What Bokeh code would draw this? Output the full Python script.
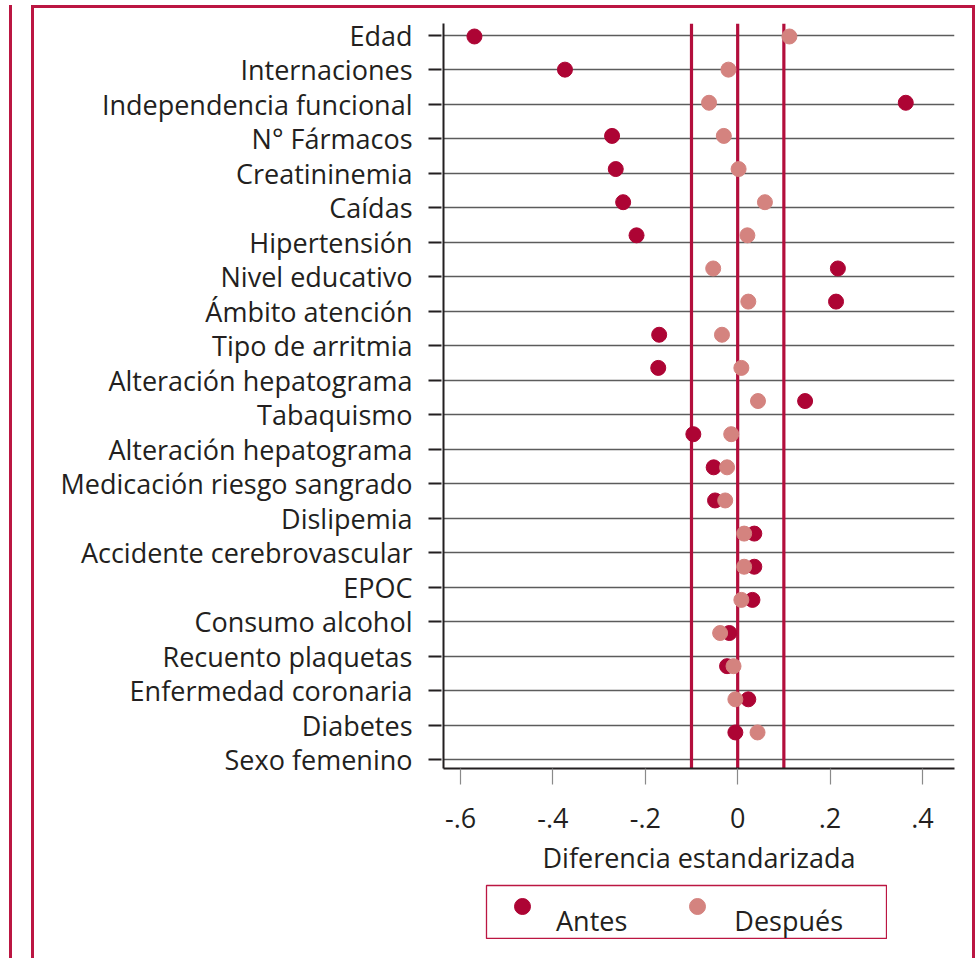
from bokeh.plotting import figure
from bokeh.models import (Range1d, FixedTicker, Span, Legend, LegendItem,
                          ColumnDataSource, Spacer)
from bokeh.layouts import column, row
from bokeh.embed import file_html
from bokeh.resources import INLINE

# ---------------- data ----------------
labels = ["Edad", "Internaciones", "Independencia funcional", "N° Fármacos",
          "Creatininemia", "Caídas", "Hipertensión", "Nivel educativo",
          "Ámbito atención", "Tipo de arritmia", "Alteración hepatograma",
          "Tabaquismo", "Alteración hepatograma", "Medicación riesgo sangrado",
          "Dislipemia", "Accidente cerebrovascular", "EPOC", "Consumo alcohol",
          "Recuento plaquetas", "Enfermedad coronaria", "Diabetes", "Sexo femenino"]
antes = [-0.570, -0.374, 0.364, -0.272, -0.264, -0.248, -0.219, 0.217, 0.213,
         -0.170, -0.172, 0.146, -0.096, -0.052, -0.049, 0.036, 0.036, 0.032,
         -0.018, -0.023, 0.023, -0.005]
despues = [0.112, -0.020, -0.062, -0.030, 0.002, 0.059, 0.021, -0.053, 0.023,
           -0.034, 0.008, 0.044, -0.014, -0.023, -0.027, 0.014, 0.014, 0.008,
           -0.038, -0.009, -0.005, 0.043]
thresholds = [-0.1, 0.0, 0.1]
x_ticks = [-0.6, -0.4, -0.2, 0.0, 0.2, 0.4]
x_tick_labels = ["-.6", "-.4", "-.2", "0", ".2", ".4"]
series_names = ["Antes", "Después"]
x_title = "Diferencia estandarizada"

# ---------------- style ----------------
DARK = "#ad0434"
LIGHT = "#d4837f"
RED = "#b30e3c"
FRAME_RED = "#bb1642"
TXT = "#231f20"
FONT = "Open Sans"
FS = "27px"

rows = list(range(len(labels)))
src = ColumnDataSource(dict(row=rows, antes=antes, despues=despues))

p = figure(width=938, height=876, output_backend="svg", toolbar_location=None,
           x_range=Range1d(-0.637, 0.4695), y_range=Range1d(21.26, -0.348),
           min_border_left=409, min_border_right=18, min_border_top=15,
           min_border_bottom=116)
p.outline_line_color = None
p.background_fill_color = "white"
p.border_fill_color = "white"

# points sit on their own slightly tighter vertical scale (as in the original)
p.extra_y_ranges = {"pts": Range1d(22.088, -0.392)}

# grid
p.xgrid.visible = False
p.ygrid.ticker = FixedTicker(ticks=rows)
p.ygrid.grid_line_color = "#5c5c5c"
p.ygrid.grid_line_width = 1.6

# threshold lines
for t in thresholds:
    p.add_layout(Span(location=t, dimension="height", line_color=RED,
                      line_width=3.2, level="underlay"))

r1 = p.scatter(x="antes", y="row", source=src, y_range_name="pts", size=15,
               fill_color=DARK, line_color=DARK)
r2 = p.scatter(x="despues", y="row", source=src, y_range_name="pts", size=15,
               fill_color=LIGHT, line_color=LIGHT)

# y axis
ya = p.yaxis[0]
ya.ticker = FixedTicker(ticks=rows)
ya.major_label_overrides = {i: lab for i, lab in enumerate(labels)}
ya.axis_line_color = TXT
ya.axis_line_width = 2
ya.major_tick_line_color = TXT
ya.major_tick_line_width = 2
ya.major_tick_in = -2
ya.major_tick_out = 15
ya.minor_tick_line_color = None
ya.major_label_standoff = 16
ya.major_label_text_font = FONT
ya.major_label_text_font_size = FS
ya.major_label_text_color = TXT

# x axis
xa = p.xaxis[0]
xa.ticker = FixedTicker(ticks=x_ticks)
xa.major_label_overrides = {v: l for v, l in zip(x_ticks, x_tick_labels)}
xa.axis_line_color = TXT
xa.axis_line_width = 2
xa.major_tick_line_color = "#8a8a8a"
xa.major_tick_line_width = 1.2
xa.major_tick_in = 0
xa.major_tick_out = 16
xa.minor_tick_line_color = None
xa.major_label_standoff = 23
xa.major_label_text_font = FONT
xa.major_label_text_font_size = FS
xa.major_label_text_color = TXT
xa.axis_label = x_title
xa.axis_label_standoff = 8
xa.axis_label_text_font = FONT
xa.axis_label_text_font_size = FS
xa.axis_label_text_font_style = "normal"
xa.axis_label_text_color = TXT

# ---------------- legend (own small panel, boxed) ----------------
# the legend panel's ranges lie beyond all data, so its renderers only
# supply legend glyphs
lg = figure(width=402, height=55, output_backend="svg", toolbar_location=None,
            x_range=Range1d(5, 6), y_range=Range1d(5, 6),
            min_border_left=1, min_border_right=1, min_border_top=1,
            min_border_bottom=1)
lg.axis.visible = False
lg.grid.visible = False
lg.outline_line_color = FRAME_RED
lg.outline_line_width = 1.3
lg.border_fill_color = "white"
l1 = lg.scatter(x="antes", y="row", source=src, size=15,
                fill_color=DARK, line_color=DARK)
l2 = lg.scatter(x="despues", y="row", source=src, size=15,
                fill_color=LIGHT, line_color=LIGHT)
h1 = lg.scatter(x="antes", y="row", source=src, size=15,
                fill_alpha=0, line_alpha=0)
h2 = lg.scatter(x="despues", y="row", source=src, size=15,
                fill_alpha=0, line_alpha=0)

common = dict(orientation="horizontal", glyph_width=40, glyph_height=40,
              label_height=40, padding=0, margin=0, border_line_color=None,
              background_fill_alpha=0, label_text_font=FONT,
              label_text_font_size=FS)
# markers only (blank labels)
leg_marks = Legend(items=[LegendItem(label=" ", renderers=[l1], index=0),
                          LegendItem(label=" ", renderers=[l2], index=0)],
                   location=(16, 12), label_standoff=0, spacing=115,
                   label_text_alpha=0, **common)
# labels, set a little lower than the markers as in the original
leg_text = Legend(items=[LegendItem(label=series_names[0], renderers=[h1], index=0),
                         LegendItem(label=series_names[1], renderers=[h2], index=0)],
                  location=(16, -2), label_standoff=14, spacing=53,
                  label_text_color=TXT, **common)
lg.add_layout(leg_marks, "center")
lg.add_layout(leg_text, "center")

# ---------------- page frame ----------------
inner = column(p, row(Spacer(width=451, height=55), lg), Spacer(width=10, height=40),
               styles={"border-top": f"3px solid {FRAME_RED}",
                       "border-left": f"3px solid {FRAME_RED}",
                       "border-right": f"3px solid {FRAME_RED}",
                       "background-color": "white"})
page = column(inner,
              styles={"margin-left": "9px", "margin-top": "5px",
                      "border-left": f"3px solid {FRAME_RED}",
                      "padding-left": "19px"})

open("out.html", "w").write(file_html(page, INLINE))
